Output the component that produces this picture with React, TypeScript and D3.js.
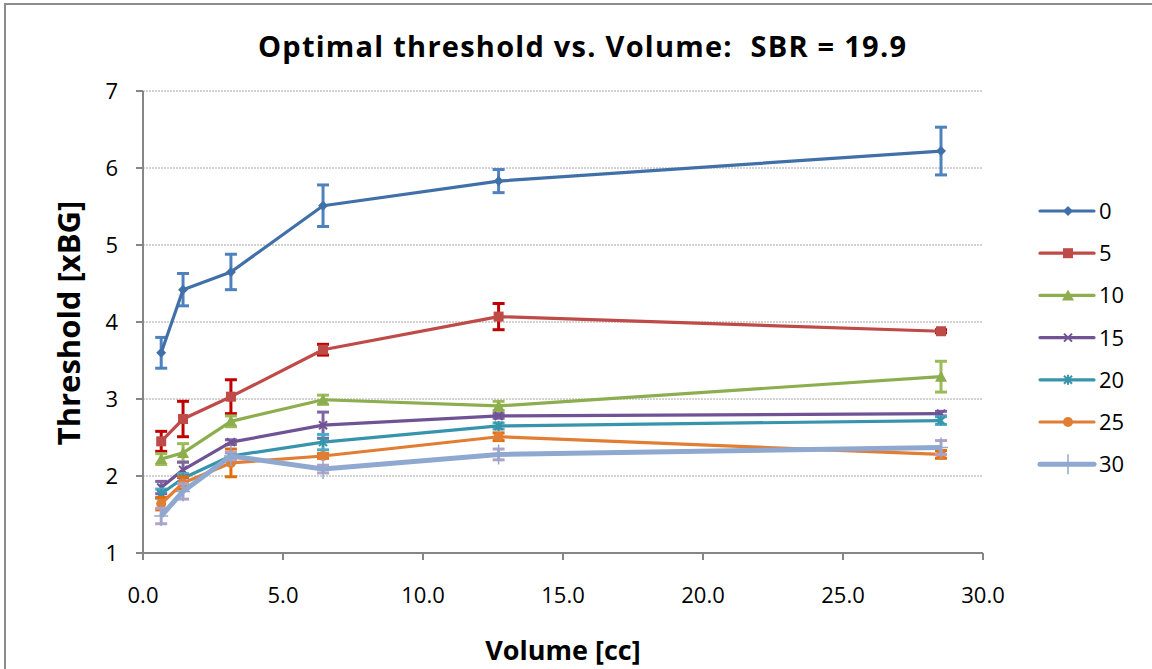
import React from "react";
import * as d3 from "d3";

// Volumes (cc) at which the threshold was measured
const volumes = [0.65, 1.43, 3.14, 6.43, 12.7, 28.5];

// Series names (legend labels)
const seriesNames = ["0", "5", "10", "15", "20", "25", "30"];

// Mean optimal threshold per series
const s0 = [3.6, 4.42, 4.65, 5.51, 5.83, 6.22];
const s5 = [2.45, 2.74, 3.03, 3.64, 4.07, 3.88];
const s10 = [2.22, 2.3, 2.71, 2.99, 2.91, 3.29];
const s15 = [1.85, 2.08, 2.44, 2.66, 2.78, 2.81];
const s20 = [1.77, 1.97, 2.26, 2.44, 2.65, 2.72];
const s25 = [1.64, 1.91, 2.17, 2.26, 2.51, 2.28];
const s30 = [1.48, 1.8, 2.26, 2.09, 2.28, 2.37];

// Error bar half-widths per series
const e0 = [0.2, 0.21, 0.23, 0.27, 0.15, 0.31];
const e5 = [0.13, 0.23, 0.22, 0.07, 0.17, 0.02];
const e10 = [0.07, 0.12, 0.07, 0.06, 0.06, 0.2];
const e15 = [0.08, 0.1, 0.03, 0.17, 0.03, 0.03];
const e20 = [0.06, 0.06, 0.04, 0.1, 0.04, 0.05];
const e25 = [0.08, 0.08, 0.18, 0.03, 0.05, 0.05];
const e30 = [0.1, 0.1, 0.05, 0.05, 0.07, 0.09];

const xTicks = [0, 5, 10, 15, 20, 25, 30];
const yTicks = [1, 2, 3, 4, 5, 6, 7];

const seriesValues = [s0, s5, s10, s15, s20, s25, s30];
const seriesErrors = [e0, e5, e10, e15, e20, e25, e30];
const lineColors = ["#4170A8", "#BE4B48", "#8CAE4E", "#6F5395", "#3794AB", "#E27D34", "#8FA8CF"];
const errColors = ["#4F81BD", "#C00000", "#9BBB59", "#8064A2", "#4BACC6", "#E46C0A", "#B3A2C7"];
const markerTypes = ["diamond", "square", "triangle", "x", "star", "circle", "plus"];
const lineWidths = [3.2, 3.2, 3.2, 3.2, 3.2, 3.2, 5];

const FONT = "'Open Sans', Lato, sans-serif";

function Marker({ type, x, y, color }: { type: string; x: number; y: number; color: string }) {
  switch (type) {
    case "diamond":
      return <path d={`M${x},${y - 5}L${x + 5},${y}L${x},${y + 5}L${x - 5},${y}Z`} fill={color} />;
    case "square":
      return <rect x={x - 5} y={y - 5} width={10} height={10} fill={color} />;
    case "triangle":
      return <path d={`M${x},${y - 6}L${x + 6},${y + 5}L${x - 6},${y + 5}Z`} fill={color} />;
    case "x":
      return (
        <path d={`M${x - 4},${y - 4}L${x + 4},${y + 4}M${x - 4},${y + 4}L${x + 4},${y - 4}`} stroke={color} strokeWidth={2} />
      );
    case "star":
      return (
        <path
          d={`M${x - 4},${y - 4}L${x + 4},${y + 4}M${x - 4},${y + 4}L${x + 4},${y - 4}M${x},${y - 5}L${x},${y + 5}`}
          stroke={color}
          strokeWidth={2}
        />
      );
    case "circle":
      return <circle cx={x} cy={y} r={5} fill={color} />;
    case "plus":
      return <path d={`M${x - 7},${y}L${x + 7},${y}M${x},${y - 10}L${x},${y + 10}`} stroke={color} strokeWidth={1.5} />;
    default:
      return null;
  }
}

export default function App() {
  const W = 1152;
  const H = 669;
  const left = 143;
  const right = 983;
  const top = 91;
  const bottom = 553;

  const x = d3.scaleLinear().domain([0, 30]).range([left, right]);
  const y = d3.scaleLinear().domain([1, 7]).range([bottom, top]);

  const line = d3
    .line<number>()
    .x((_, i) => x(volumes[i]))
    .y((v) => y(v));

  const legendX = 1040;
  const legendY0 = 211;
  const legendStep = 42.2;

  return (
    <svg width={W} height={H} style={{ position: "absolute", left: 0, top: 0 }}>
      <rect x={0} y={0} width={W} height={H} fill="#fff" />
      <rect x={5} y={4} width={W + 20} height={H + 20} fill="none" stroke="#8c8c8c" strokeWidth={2} />

      {/* title */}
      <text
        x={582}
        y={57}
        textAnchor="middle"
        fontFamily={FONT}
        fontWeight="bold"
        fontSize={29}
        fill="#000"
        textLength={648}
        lengthAdjust="spacing"
        style={{ whiteSpace: "pre" }}
      >
        Optimal threshold vs. Volume:  SBR = 19.9
      </text>

      {/* gridlines */}
      {yTicks.slice(1).map((t) => (
        <line key={t} x1={left} x2={right} y1={y(t)} y2={y(t)} stroke="#a6a6a6" strokeWidth={1} strokeDasharray="2,1" />
      ))}

      {/* axes */}
      <line x1={left} x2={left} y1={top} y2={bottom} stroke="#868686" strokeWidth={2} />
      <line x1={left - 7} x2={right} y1={bottom} y2={bottom} stroke="#868686" strokeWidth={2} />
      {yTicks.map((t) => (
        <g key={t}>
          <line x1={left - 7} x2={left} y1={y(t)} y2={y(t)} stroke="#868686" strokeWidth={2} />
          <text x={118} y={y(t) + 8} textAnchor="end" fontFamily={FONT} fontSize={22} fill="#000">
            {t}
          </text>
        </g>
      ))}
      {xTicks.map((t) => (
        <g key={t}>
          <line x1={x(t)} x2={x(t)} y1={bottom} y2={bottom + 7} stroke="#868686" strokeWidth={2} />
          <text x={x(t)} y={603} textAnchor="middle" fontFamily={FONT} fontSize={22} fill="#000">
            {t.toFixed(1)}
          </text>
        </g>
      ))}

      {/* axis titles */}
      <text
        transform={`translate(80,323) rotate(-90)`}
        textAnchor="middle"
        fontFamily={FONT}
        fontWeight="bold"
        fontSize={31}
        fill="#000"
      >
        Threshold [xBG]
      </text>
      <text x={563} y={660} textAnchor="middle" fontFamily={FONT} fontWeight="bold" fontSize={27} fill="#000">
        Volume [cc]
      </text>

      {/* series */}
      {seriesValues.map((vals, si) => (
        <g key={si}>
          {vals.map((v, i) => {
            const cx = x(volumes[i]);
            const e = seriesErrors[si][i];
            const y1 = y(v + e);
            const y2 = y(v - e);
            return (
              <g key={i} stroke={errColors[si]} strokeWidth={3}>
                <line x1={cx} x2={cx} y1={y1} y2={y2} />
                <line x1={cx - 6} x2={cx + 6} y1={y1} y2={y1} />
                <line x1={cx - 6} x2={cx + 6} y1={y2} y2={y2} />
              </g>
            );
          })}
          <path d={line(vals) || ""} fill="none" stroke={lineColors[si]} strokeWidth={lineWidths[si]} strokeLinejoin="round" />
          {vals.map((v, i) => (
            <Marker key={i} type={markerTypes[si]} x={x(volumes[i])} y={y(v)} color={lineColors[si]} />
          ))}
        </g>
      ))}

      {/* legend */}
      {seriesNames.map((name, i) => {
        const ly = legendY0 + i * legendStep;
        return (
          <g key={name}>
            <line x1={legendX} x2={legendX + 54} y1={ly} y2={ly} stroke={lineColors[i]} strokeWidth={lineWidths[i]} strokeLinecap="round" />
            <Marker type={markerTypes[i]} x={legendX + 28} y={ly} color={lineColors[i]} />
            <text x={legendX + 59} y={ly + 8} fontFamily={FONT} fontSize={22} fill="#000">
              {name}
            </text>
          </g>
        );
      })}
    </svg>
  );
}
